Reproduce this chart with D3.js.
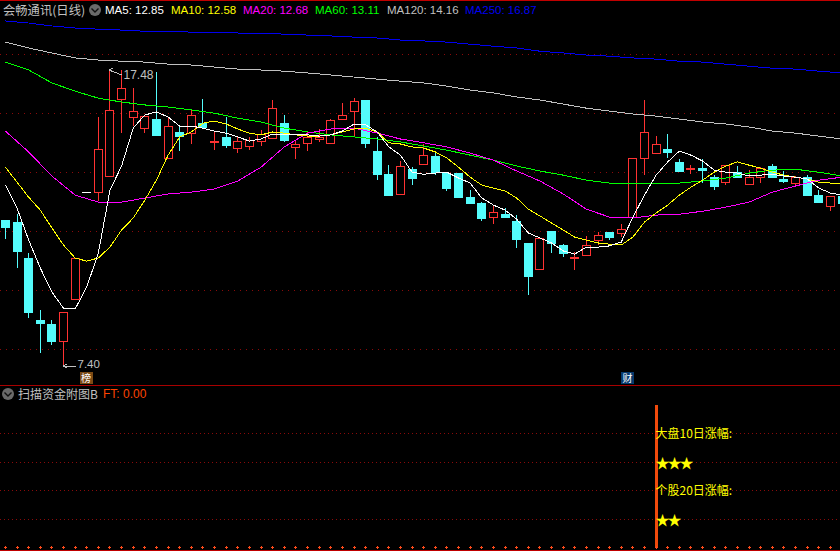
<!DOCTYPE html>
<html><head><meta charset="utf-8">
<style>html,body{margin:0;padding:0;background:#000;overflow:hidden}svg{display:block}text{white-space:pre}</style>
<script src="https://cdn.jsdelivr.net/npm/d3@7"></script></head><body><svg id="c" width="840" height="551"></svg>
<script>
const opens=[12.37,12.30,11.08,8.97,8.83,8.25,9.68,13.32,13.32,13.87,16.49,15.88,15.51,15.81,14.48,15.37,15.33,15.67,15.03,15.20,14.82,14.89,15.06,15.16,15.67,14.85,15.00,15.13,15.00,15.81,16.08,16.46,14.72,13.93,13.26,14.10,14.28,14.55,13.97,13.97,13.15,12.95,12.47,12.57,12.34,11.59,10.70,12.00,11.52,11.08,11.18,11.69,11.96,11.93,12.47,14.48,14.65,14.79,14.35,14.10,14.14,13.83,13.66,14.00,13.59,13.83,14.21,13.77,13.63,13.83,13.22,12.85,13.19];
const highs=[12.37,12.57,11.25,9.31,8.97,9.24,11.08,13.32,15.88,17.48,17.48,16.87,15.91,17.41,15.88,15.61,16.15,16.49,15.37,15.88,15.23,15.20,15.44,16.46,15.95,15.06,15.37,15.47,15.81,16.35,16.52,16.46,15.20,14.24,14.38,14.17,14.96,14.72,14.00,13.97,13.39,12.98,12.88,12.78,12.54,11.59,11.76,12.00,11.55,11.28,11.82,11.96,11.96,12.23,14.48,16.46,15.23,15.30,14.45,14.24,14.45,13.90,14.24,14.21,14.07,14.17,14.28,14.04,13.87,13.90,13.39,13.19,13.19];
const lows=[11.72,10.74,9.03,7.84,8.11,7.40,9.68,13.32,13.02,13.87,15.33,15.57,15.33,15.23,14.48,14.72,14.96,15.47,14.75,14.82,14.65,14.75,14.89,15.13,15.03,14.45,14.72,15.03,15.00,15.81,15.20,14.82,13.73,13.22,13.22,13.56,14.28,13.90,13.36,13.12,12.91,12.34,12.23,12.44,11.42,9.82,10.70,11.25,11.11,10.67,11.15,11.52,11.69,11.79,12.47,13.90,14.65,14.48,14.00,13.93,13.63,13.39,13.56,13.83,13.59,13.63,13.80,13.63,13.53,13.22,12.95,12.68,12.95];
const closes=[12.13,11.32,9.24,8.87,8.25,9.24,11.08,13.32,14.79,16.12,16.87,16.08,15.91,15.27,15.57,15.23,15.95,15.54,15.03,14.93,15.06,15.10,15.30,16.18,15.10,14.96,15.20,15.20,15.78,15.95,16.42,15.00,13.93,13.22,14.21,13.80,14.58,14.00,13.46,13.15,12.95,12.44,12.64,12.47,11.72,10.46,11.76,11.59,11.25,11.08,11.52,11.86,11.79,12.06,14.48,15.37,14.96,14.69,14.04,14.10,14.07,13.53,14.24,13.83,13.83,14.14,13.83,13.70,13.83,13.22,12.98,13.19,12.95];
const ma5=[13.56,12.78,11.69,10.74,9.92,9.37,9.34,10.09,11.25,13.39,14.21,15.50,15.95,16.05,15.88,15.57,15.57,15.50,15.40,15.33,15.20,15.06,15.13,15.30,15.27,15.30,15.27,15.23,15.27,15.40,15.64,15.61,15.37,14.86,14.58,14.00,13.93,13.97,14.00,13.80,13.63,13.12,12.88,12.71,12.40,11.93,11.76,11.59,11.32,11.21,11.45,11.45,11.49,11.62,12.47,13.22,13.90,14.35,14.72,14.58,14.38,14.07,14.00,13.97,13.87,13.90,13.93,13.87,13.83,13.77,13.46,13.29,13.22];
const ma10=[14.17,13.66,13.15,12.71,12.10,11.52,11.08,10.97,11.08,11.45,12.03,12.44,13.05,13.73,14.58,15.20,15.37,15.67,15.74,15.64,15.47,15.33,15.27,15.37,15.33,15.27,15.23,15.23,15.27,15.37,15.47,15.50,15.37,15.00,14.96,14.86,14.82,14.69,14.48,14.17,13.83,13.56,13.46,13.36,13.12,12.74,12.51,12.27,12.03,11.79,11.69,11.59,11.55,11.52,11.79,12.30,12.61,12.88,13.22,13.49,13.73,14.00,14.21,14.35,14.24,14.14,14.00,13.90,13.83,13.77,13.66,13.63,13.59];
const ma20=[15.40,14.69,13.87,13.22,12.98,12.98,13.12,13.26,13.32,13.43,13.70,14.17,14.86,15.33,15.47,15.50,15.33,15.13,15.00,14.86,14.65,14.41,14.04,13.70,13.26,12.74,12.47,12.44,12.54,12.57,12.67,12.81,12.98,13.32,13.53,13.73,13.83];
const ma60=[17.75,17.48,17.04,16.76,16.52,16.39,16.29,16.22,16.12,16.01,15.84,15.71,15.50,15.37,15.27,15.20,15.13,15.03,14.89,14.75,14.58,14.41,14.21,14.04,13.90,13.73,13.63,13.63,13.63,13.63,13.70,13.80,13.97,14.07,14.10,14.00,13.87];
const ma120=[18.43,18.23,18.06,17.89,17.82,17.78,17.75,17.68,17.65,17.58,17.51,17.48,17.44,17.38,17.31,17.24,17.17,17.10,17.04,16.93,16.80,16.70,16.56,16.46,16.32,16.18,16.08,15.98,15.91,15.81,15.71,15.64,15.54,15.40,15.33,15.23,15.13];
const ma250=[19.15,19.08,18.98,18.91,18.87,18.84,18.80,18.80,18.77,18.77,18.74,18.74,18.70,18.67,18.64,18.60,18.57,18.50,18.47,18.43,18.36,18.29,18.23,18.12,18.06,17.99,17.95,17.89,17.85,17.78,17.75,17.68,17.61,17.54,17.51,17.44,17.38];
const legendLabels=["MA5: 12.85","MA10: 12.58","MA20: 12.68","MA60: 13.11","MA120: 14.16","MA250: 16.87"];
const stockTitle="会畅通讯(日线)", subTitle="扫描资金附图B", subValue="FT: 0.00";
const subLines=["大盘10日涨幅:","★★★","个股20日涨幅:","★★"];
const priceExtremes=[{i:9,v:17.48,t:"17.48"},{i:5,v:7.40,t:"7.40"}];
const badges=[{i:6.9,t:"榜",bg:"#7b4a14"},{i:53.5,t:"财",bg:"#063a6e"}];
const signalIndex=56;

const W=840,H=551;
const svg=d3.select("#c");
const n=opens.length;
const x=d3.scaleLinear().domain([0,n-1]).range([5.4,5.4+11.62*(n-1)]);
const y=d3.scaleLinear().domain([7.40,17.48]).range([366,70]);
const px=v=>Math.floor(v)+.5;

svg.append("rect").attr("width",W).attr("height",H).attr("fill","#000");
const crisp=g=>g.attr("shape-rendering","crispEdges");

const frame=svg.append("g").call(crisp);
[[0.5,"#c00000"],[385.5,"#a80000"],[550.5,"#c00000"]].forEach(([yy,c])=>
  frame.append("line").attr("x1",0).attr("x2",W).attr("y1",yy).attr("y2",yy).attr("stroke",c));
const grid=svg.append("g").call(crisp);
[54,113,172,231,290,349].forEach(g=>grid.append("line").attr("x1",0).attr("x2",W).attr("y1",g+.5).attr("y2",g+.5).attr("stroke","#8a0a0a").attr("stroke-dasharray","1 5"));
[433,462,490,519].forEach(g=>grid.append("line").attr("x1",0).attr("x2",W).attr("y1",g+.5).attr("y2",g+.5).attr("stroke","#8a0a0a").attr("stroke-dasharray","1 3"));

const cg=svg.append("g").call(crisp);
d3.range(n).forEach(i=>{
  const cx=px(x(i)),o=opens[i],c=closes[i],h=highs[i],l=lows[i];
  const flat=h===l, up=c>=o, doji=o===c;
  const col=flat?"#ffffff":(up?"#ff3232":"#54fcfc");
  const t=Math.round(y(Math.max(o,c))),b=Math.round(y(Math.min(o,c)));
  if(!flat) cg.append("line").attr("x1",cx).attr("x2",cx).attr("y1",y(h)).attr("y2",y(l)).attr("stroke",col);
  if(doji){
    cg.append("rect").attr("x",cx-4.5).attr("y",t-(flat?0:1)).attr("width",9).attr("height",flat?1:2).attr("fill",col);
  } else if(up){
    cg.append("rect").attr("x",cx-4).attr("y",t+.5).attr("width",8).attr("height",b-t).attr("fill","#000").attr("stroke",col);
  } else {
    cg.append("rect").attr("x",cx-4.5).attr("y",t).attr("width",9).attr("height",b-t+1).attr("fill",col);
  }
});

const line=d3.line().x(d=>x(d[0])).y(d=>y(d[1]));
const full=a=>a.map((v,i)=>[i,v]);
const sparse=a=>a.map((v,i)=>[i*2,v]);
const lg=svg.append("g").attr("fill","none").attr("shape-rendering","crispEdges");
[[ma250,sparse,"#0000f0"],[ma120,sparse,"#c0c0c0"],[ma60,sparse,"#00ff00"],[ma20,sparse,"#ff00ff"],[ma10,full,"#ffff00"],[ma5,full,"#ffffff"]]
 .forEach(([a,f,c])=>lg.append("path").attr("d",line(f(a))).attr("stroke",c).attr("stroke-width",1));

const latin='"Liberation Sans",Arial,sans-serif', cjk='"Noto Sans CJK SC",sans-serif';
priceExtremes.forEach((e,k)=>{
  const ax=px(x(e.i)),ay=Math.round(y(e.v));
  const g=svg.append("g").attr("stroke","#c0c0c0").attr("fill","none").call(crisp);
  const dy=k===0?5:0;
  g.append("path").attr("d",`M${ax},${ay} L${ax+12},${ay+dy} M${ax},${ay} l3,-2 M${ax},${ay} l3,2`);
  svg.append("text").attr("x",ax+14).attr("y",k===0?ay+dy+4:367.7).attr("fill","#c0c0c0").attr("font-family",latin).attr("font-size",k===0?12:11.5).text(e.t);
});
badges.forEach(b=>{
  const cx=x(b.i);
  svg.append("rect").attr("x",Math.round(cx)-6).attr("y",372).attr("width",13).attr("height",12).attr("fill",b.bg);
  svg.append("text").attr("x",cx+.5).attr("y",381.7).attr("text-anchor","middle").attr("fill","#fff").attr("font-family",cjk).attr("font-size",10).text(b.t);
});

svg.append("text").attr("x",3).attr("y",15).attr("fill","#c0c0c0").attr("font-family",cjk).attr("font-size",12.3).text(stockTitle);
function chevron(cx,cy){
  svg.append("circle").attr("cx",cx).attr("cy",cy).attr("r",6).attr("fill","#6a6a6a");
  svg.append("path").attr("d",`M${cx-3.5},${cy-1.5} L${cx},${cy+2} L${cx+3.5},${cy-1.5}`).attr("stroke","#111").attr("stroke-width",1.4).attr("fill","none");
}
chevron(95,10);
const legendX=[105,171,243,315,387,465];
const legendC=["#ffffff","#ffff00","#ff00ff","#00ff00","#c0c0c0","#0000f0"];
legendLabels.forEach((t,i)=>svg.append("text").attr("x",legendX[i]).attr("y",14).attr("fill",legendC[i]).attr("font-family",latin).attr("font-size",11.5).text(t));

chevron(8,394);
svg.append("text").attr("x",18).attr("y",398.5).attr("fill","#c0c0c0").attr("font-family",cjk).attr("font-size",12).text(subTitle);
svg.append("text").attr("x",103).attr("y",398).attr("fill","#ff4400").attr("font-family",latin).attr("font-size",12).text(subValue);
const sigX=px(x(signalIndex));
svg.append("rect").attr("x",sigX-1.5).attr("y",405).attr("width",3).attr("height",143).attr("fill","#f04a0c").call(crisp);
const tg=svg.append("g").call(crisp);
d3.range(n).forEach(i=>tg.append("path").attr("d","M-1,0H2M.5,-1.5V1.5").attr("stroke","#ff4a1a").attr("fill","none").attr("transform",`translate(${Math.floor(x(i))},547.5)`));
[[438,12,0],[467.5,14,-2],[495,12,0],[524.5,14,-2]].forEach(([yy,fs,ls],i)=>
  svg.append("text").attr("x",sigX-1).attr("y",yy).attr("fill","#ffff00").attr("font-family",cjk).attr("font-size",fs).attr("letter-spacing",ls).text(subLines[i]));
</script></body></html>
